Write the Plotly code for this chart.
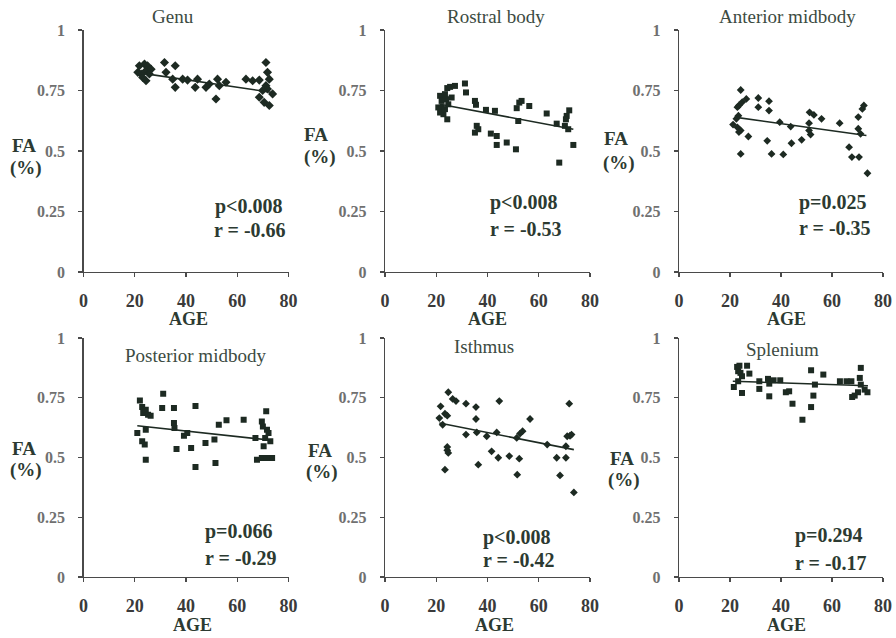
import plotly.graph_objects as go

W, H = 896, 638

# ---------------- data ----------------
titles = ["Genu", "Rostral body", "Anterior midbody",
          "Posterior midbody", "Isthmus", "Splenium"]
p_texts = ["p<0.008", "p<0.008", "p=0.025", "p=0.066", "p<0.008", "p=0.294"]
r_texts = ["r = -0.66", "r = -0.53", "r = -0.35", "r = -0.29", "r = -0.42", "r = -0.17"]
x_ticks = [0, 20, 40, 60, 80]
y_ticks = [0, 0.25, 0.5, 0.75, 1]
y_tick_labels = ["0", "0.25", "0.5", "0.75", "1"]

genu_age = [21.8, 23.8, 25.0, 21.2, 22.5, 24.4, 25.7, 24.4, 23.1, 26.4, 31.6, 35.8, 32.2,
            34.8, 35.8, 38.7, 40.6, 43.6, 44.5, 47.8, 49.1, 51.7, 52.3, 53.0, 55.6, 63.4,
            66.0, 68.6, 71.2, 71.8, 72.5, 71.2, 71.8, 68.6, 70.5, 72.5, 73.8, 69.9]
genu_fa = [0.852, 0.859, 0.852, 0.825, 0.818, 0.832, 0.818, 0.790, 0.804, 0.838, 0.866, 0.852,
           0.825, 0.797, 0.763, 0.797, 0.793, 0.763, 0.797, 0.763, 0.777, 0.715, 0.797, 0.770,
           0.784, 0.797, 0.790, 0.793, 0.866, 0.825, 0.797, 0.770, 0.756, 0.722, 0.701, 0.688,
           0.736, 0.750]

rostral_age = [21.5, 22.1, 23.4, 24.3, 25.4, 27.3, 26.0, 23.8, 20.8, 22.1, 22.8, 24.3, 21.5,
               23.4, 24.7, 31.2, 31.6, 35.1, 35.5, 35.8, 35.1, 36.4, 39.4, 41.3, 42.9, 43.6,
               43.6, 47.5, 51.1, 51.4, 52.4, 53.3, 56.3, 52.0, 63.1, 67.0, 68.0, 70.2, 70.9,
               71.9, 71.5, 73.5, 70.6]
rostral_fa = [0.728, 0.707, 0.735, 0.760, 0.765, 0.769, 0.721, 0.714, 0.680, 0.680, 0.652,
              0.631, 0.659, 0.673, 0.693, 0.779, 0.742, 0.707, 0.691, 0.604, 0.576, 0.590,
              0.670, 0.572, 0.666, 0.562, 0.525, 0.535, 0.507, 0.677, 0.700, 0.707, 0.686,
              0.624, 0.655, 0.613, 0.452, 0.604, 0.645, 0.668, 0.590, 0.525, 0.631]

anterior_age = [24.2, 26.4, 23.5, 22.9, 24.8, 23.3, 22.5, 21.2, 22.9, 24.2, 23.5, 27.2, 24.2,
                31.1, 31.1, 35.3, 35.3, 34.6, 36.3, 39.5, 40.9, 43.8, 44.1, 48.1, 51.0, 51.0,
                51.6, 51.2, 52.9, 55.9, 63.0, 66.7, 67.8, 70.6, 70.3, 70.3, 71.2, 71.9, 72.5,
                73.9]
anterior_fa = [0.752, 0.715, 0.688, 0.681, 0.702, 0.646, 0.633, 0.609, 0.598, 0.585, 0.578,
               0.560, 0.488, 0.719, 0.681, 0.706, 0.667, 0.542, 0.488, 0.619, 0.486, 0.601,
               0.532, 0.546, 0.615, 0.585, 0.568, 0.660, 0.649, 0.633, 0.615, 0.516, 0.475,
               0.475, 0.640, 0.592, 0.571, 0.674, 0.688, 0.408]

posterior_age = [22.0, 22.9, 23.3, 24.3, 25.2, 26.2, 21.0, 24.3, 22.9, 23.9, 24.3, 31.1, 30.7,
                 35.3, 35.3, 35.5, 36.3, 39.2, 40.5, 42.0, 43.7, 43.7, 47.6, 51.1, 51.5, 52.8,
                 55.8, 62.5, 67.1, 67.7, 69.6, 71.6, 73.6, 71.3, 69.6, 70.0, 71.6, 72.2, 70.3,
                 70.9, 72.9]
posterior_fa = [0.739, 0.711, 0.686, 0.700, 0.679, 0.675, 0.603, 0.616, 0.568, 0.554, 0.491,
                0.767, 0.707, 0.707, 0.644, 0.623, 0.536, 0.591, 0.603, 0.540, 0.716, 0.460,
                0.561, 0.575, 0.477, 0.637, 0.656, 0.658, 0.582, 0.491, 0.498, 0.498, 0.498,
                0.693, 0.651, 0.630, 0.616, 0.603, 0.547, 0.582, 0.568]

isthmus_age = [21.7, 21.2, 23.4, 24.3, 22.5, 24.7, 26.4, 27.7, 24.3, 24.3, 24.7, 23.4, 31.6,
               31.6, 35.5, 35.5, 35.8, 36.4, 39.7, 41.6, 44.6, 43.6, 44.2, 48.5, 51.4, 52.7,
               53.7, 52.4, 51.6, 56.6, 63.3, 67.0, 68.3, 70.6, 70.6, 71.1, 71.9, 72.2, 72.8,
               73.7]
isthmus_fa = [0.714, 0.665, 0.683, 0.675, 0.637, 0.773, 0.745, 0.736, 0.544, 0.530, 0.519,
              0.449, 0.725, 0.596, 0.711, 0.661, 0.605, 0.470, 0.589, 0.526, 0.736, 0.605,
              0.499, 0.506, 0.582, 0.600, 0.610, 0.495, 0.428, 0.661, 0.554, 0.499, 0.425,
              0.499, 0.547, 0.589, 0.725, 0.591, 0.596, 0.354]

splenium_age = [22.8, 23.7, 26.7, 23.2, 24.1, 24.7, 27.6, 21.5, 23.2, 24.7, 31.5, 31.5, 34.9,
                35.4, 35.4, 37.1, 39.7, 41.9, 43.2, 44.5, 48.4, 51.8, 51.8, 52.7, 53.3, 56.6,
                63.1, 65.7, 67.6, 67.9, 68.9, 70.2, 71.3, 70.9, 71.3, 72.8, 73.9]
splenium_fa = [0.879, 0.884, 0.884, 0.861, 0.854, 0.840, 0.851, 0.795, 0.819, 0.770, 0.819,
               0.787, 0.829, 0.756, 0.809, 0.823, 0.823, 0.773, 0.777, 0.725, 0.658, 0.865,
               0.711, 0.759, 0.805, 0.847, 0.819, 0.819, 0.819, 0.753, 0.759, 0.773, 0.875,
               0.833, 0.805, 0.784, 0.773]

# fitted regression lines (end points)
trend_age = [[20.5, 73.8], [21.5, 73.5], [21.7, 73.5], [21.0, 73.5], [21.2, 73.7], [21.1, 74.1]]
trend_fa = [[0.825, 0.742], [0.693, 0.590], [0.640, 0.564], [0.633, 0.572], [0.644, 0.533], [0.819, 0.800]]

ages = [genu_age, rostral_age, anterior_age, posterior_age, isthmus_age, splenium_age]
fas = [genu_fa, rostral_fa, anterior_fa, posterior_fa, isthmus_fa, splenium_fa]
symbols = ["diamond", "square", "diamond", "square", "diamond", "square"]
msizes = [7, 6, 6, 6, 6, 6]

# ---------------- layout helpers ----------------
def px(x):
    return x / W

def py(y):
    return 1 - y / H

col_px = [(83.5, 288.5), (385, 590), (679, 883)]
row_px = [(30, 272), (338, 577)]

INK = "#1d2a22"
TXT = "#2c3a31"
TITLE = "#3c4b42"
SERIF = "Liberation Serif, Times New Roman, serif"

fig = go.Figure()
annotations = []

for i in range(6):
    r, c = divmod(i, 3)
    ax = "" if i == 0 else str(i + 1)
    xa, ya = "x" + ax, "y" + ax
    fig.add_trace(go.Scatter(x=ages[i], y=fas[i], mode="markers", xaxis=xa, yaxis=ya,
                             marker=dict(symbol=symbols[i], size=msizes[i], color=INK,
                                         line=dict(width=0)),
                             showlegend=False, hoverinfo="skip"))
    fig.add_trace(go.Scatter(x=trend_age[i], y=trend_fa[i], mode="lines", xaxis=xa, yaxis=ya,
                             line=dict(color=INK, width=1.6), showlegend=False, hoverinfo="skip"))
    x0, x1 = col_px[c]
    t0, b0 = row_px[r]
    common = dict(showline=True, linecolor="#4a4a4a", linewidth=1.3, showgrid=False,
                  zeroline=False, ticks="outside", ticklen=4, tickcolor="#4a4a4a",
                  tickwidth=1.2, automargin=False)
    fig.update_layout(**{
        ("xaxis" + ax): dict(domain=[px(x0), px(x1)], range=[0, 80], anchor=ya,
                             tickvals=x_ticks, ticktext=[str(v) for v in x_ticks],
                             tickfont=dict(family=SERIF, size=18, color="#3a3a3a", weight="bold"),
                             ticklabelstandoff=8, **common),
        ("yaxis" + ax): dict(domain=[py(b0), py(t0)], range=[0, 1], anchor=xa,
                             tickvals=y_ticks, ticktext=y_tick_labels,
                             tickfont=dict(family=SERIF, size=16, color="#707070", weight="bold"),
                             ticklabelstandoff=10, **common),
    })

def ann(text, x, y, size, color, bold=False, xanchor="center"):
    annotations.append(dict(text=text, x=px(x), y=py(y), xref="paper", yref="paper",
                            xanchor=xanchor, yanchor="middle", showarrow=False,
                            font=dict(family=SERIF, size=size, color=color,
                                      weight="bold" if bold else "normal")))

title_pos = [(173, 17), (496, 17), (787, 17), (195, 355), (484, 346), (782, 349)]
for t, (x, y) in zip(titles, title_pos):
    ann(t, x, y, 19, TITLE)

pr_pos = [((213, 206), (212, 230)), ((488, 202), (488, 229)), ((797, 202), (797, 228)),
          ((203, 531), (203, 558)), ((481, 537), (481, 560)), ((793, 535), (793, 563))]
for i, ((pxx, pyy), (rx, ry)) in enumerate(pr_pos):
    ann(p_texts[i], pxx, pyy, 20, TXT, bold=True, xanchor="left")
    ann(r_texts[i], rx, ry, 20, TXT, bold=True, xanchor="left")

fa_pos = [((24, 145), (26, 168)), ((316, 134), (320, 157)), ((616, 138), (619, 163)),
          ((24, 448), (26, 470)), ((320, 450), (322, 472)), ((622, 458), (624, 480))]
for (fx, fy), (qx, qy) in fa_pos:
    ann("FA", fx, fy, 19, TXT, bold=True)
    ann("(%)", qx, qy, 19, TXT, bold=True)

age_pos = [(188, 319), (487, 319), (786, 319), (192, 625), (494, 625), (786, 625)]
for x, y in age_pos:
    ann("AGE", x, y, 18, TXT, bold=True)

fig.update_layout(width=W, height=H, margin=dict(l=0, r=0, t=0, b=0),
                  paper_bgcolor="white", plot_bgcolor="white",
                  annotations=annotations, showlegend=False, hovermode=False)

# remove the browser's default 8 px page margin so the figure fills the window exactly
fig.write_html("out.html",
               config={"displayModeBar": False, "staticPlot": True},
               post_script="document.body.style.margin='0';"
                           "document.body.style.overflow='hidden';")
